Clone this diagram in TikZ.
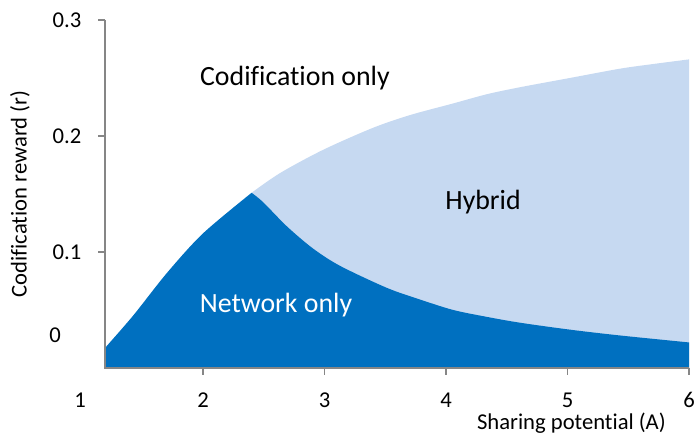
\documentclass[tikz,border=0pt]{standalone}
\usepackage{fontspec}
\setmainfont{Carlito}[Ligatures=NoCommon]
\definecolor{netblue}{RGB}{0, 112, 192}
\definecolor{hybblue}{RGB}{198, 217, 241}
\definecolor{axisgray}{RGB}{134, 134, 134}
\usetikzlibrary{positioning}

\begin{document}
\begin{tikzpicture}[
  x=3.0375cm, y=29cm,
  region/.style={font=\fontsize{19.8}{22}\selectfont, inner sep=0pt},
  ticklabel/.style={font=\fontsize{16.1}{18}\selectfont, inner sep=0pt},
  axisline/.style={draw=axisgray, line width=1.4pt}
]
  \useasboundingbox (0.3292,-0.0569) rectangle (6.0412,0.3172);

  % hybrid region (below the upper boundary)
  \fill[hybblue] (2.40,0) -- (2.40,0.151) -- plot[smooth, tension=0.5] coordinates {
    (2.40,0.151) (2.634,0.168) (2.988,0.188) (3.399,0.207)
    (3.704,0.218) (4.058,0.228) (4.337,0.236) (4.609,0.242) (5.021,0.250)
    (5.432,0.258) (5.704,0.262) (6,0.266)} -- (6,0) -- cycle;

  % network only region
  \fill[netblue] (1.193,0) -- plot[smooth, tension=0.5] coordinates {
    (1.193,0.0172) (1.424,0.045) (1.704,0.082) (2.0,0.116) (2.40,0.151)}
    -- plot[smooth, tension=0.5] coordinates {
    (2.40,0.151) (2.494,0.143) (2.691,0.122) (2.905,0.103) (3.128,0.088)
    (3.514,0.069) (3.786,0.059) (4.058,0.050) (4.337,0.044)
    (4.609,0.039) (5.021,0.033) (5.432,0.028) (6,0.022)} -- (6,0) -- cycle;

  % axes
  \coordinate (origin) at (1.193,0);
  \coordinate (ytop) at (1.193,0.3);
  \coordinate (xend) at (6,0);
  \draw[axisline] (ytop) -- (origin) -- (xend);
  \draw[axisline] (1.193,0.1) -- ++(-0.0576,0);
  \draw[axisline] (1.193,0.2) -- ++(-0.0576,0);
  \draw[axisline] (1.193,0.3) -- ++(-0.0576,0);
  \draw[axisline] (2,0) -- ++(0,-0.006);
  \draw[axisline] (3,0) -- ++(0,-0.006);
  \draw[axisline] (4,0) -- ++(0,-0.006);
  \draw[axisline] (5,0) -- ++(0,-0.006);
  \draw[axisline] (6,0) -- ++(0,-0.006);

  \node[ticklabel] (y3) at (0.881,0.300) {0.3};
  \node[ticklabel] (y2) at (0.881,0.200) {0.2};
  \node[ticklabel] (y1) at (0.881,0.100) {0.1};
  \node[ticklabel] (y0) at (0.782,0.0284) {0};

  \node[ticklabel] (x1) at (0.988,-0.0276) {1};
  \node[ticklabel] (x2) at (2,-0.0276) {2};
  \node[ticklabel] (x3) at (3,-0.0276) {3};
  \node[ticklabel] (x4) at (4,-0.0276) {4};
  \node[ticklabel] (x5) at (5,-0.0276) {5};
  \node[ticklabel] (x6) at (6,-0.0276) {6};

  \node[ticklabel, anchor=east] (xtitle) at (5.811,-0.0474) {Sharing potential (A)};
  \node[ticklabel, rotate=90] (ytitle) at (0.494,0.150) {Codification reward (r)};

  \node[region] (codif) at (2.757,0.250) {Codification only};
  \node[region] (hybrid) at (4.305,0.143) {Hybrid};
  \node[region, text=white] (network) at (2.601,0.0543) {Network only};
\end{tikzpicture}
\end{document}
